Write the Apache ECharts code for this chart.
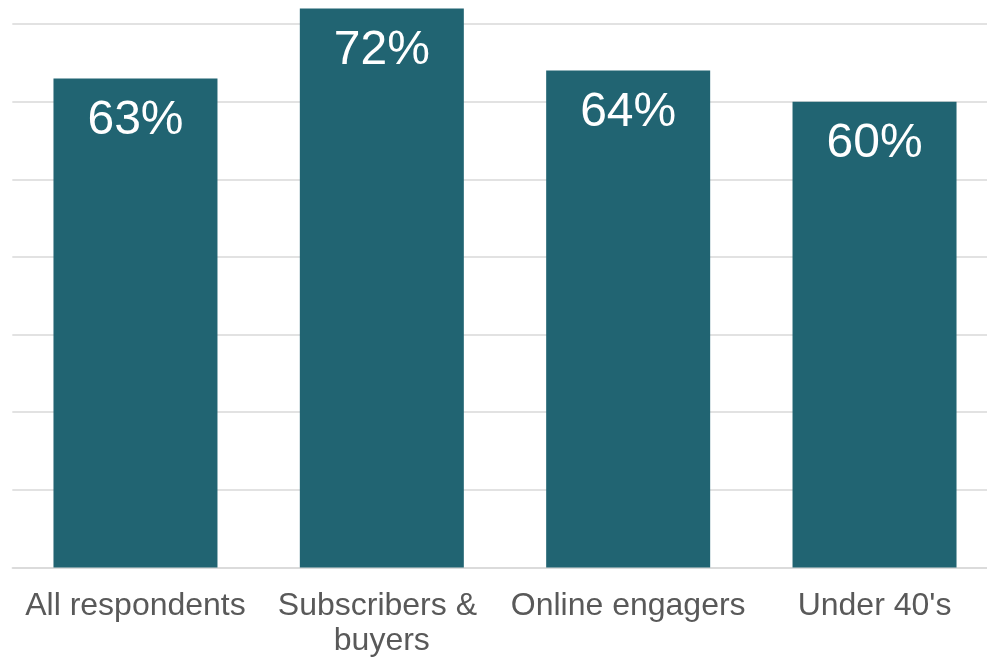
<!DOCTYPE html>
<html>
<head>
<meta charset="utf-8">
<script src="https://cdn.jsdelivr.net/npm/echarts@6/dist/echarts.min.js"></script>
<style>html,body{margin:0;padding:0;background:#fff;overflow:hidden}#c{width:987px;height:658px}</style>
</head>
<body>
<div id="c"></div>
<script>
var categories = ["All respondents", "Subscribers & buyers", "Online engagers", "Under 40's"];
var values = [63, 72, 64, 60];

var chart = echarts.init(document.getElementById('c'), null, {renderer: 'canvas'});
var fontFam = '"Liberation Sans", Arial, sans-serif';
chart.setOption({
  animation: false,
  backgroundColor: '#ffffff',
  grid: {left: 12.3, right: -10.7, top: 8.5, height: 559, containLabel: false, outerBoundsMode: 'none'},
  xAxis: {
    type: 'category',
    data: categories,
    axisLine: {show: true, lineStyle: {color: '#d9d9d9', width: 1.5}},
    axisTick: {show: false},
    axisLabel: {
      interval: 0,
      color: '#595959',
      fontFamily: fontFam,
      fontSize: 32,
      lineHeight: 35,
      margin: 21,
      width: 240,
      overflow: 'break'
    }
  },
  yAxis: {
    type: 'value',
    min: 0, max: 72, interval: 10,
    axisLabel: {show: false},
    axisLine: {show: false},
    axisTick: {show: false},
    splitLine: {show: true, showMaxLine: false, lineStyle: {color: '#d9d9d9', width: 1.5}}
  },
  series: [{
    type: 'bar',
    data: values,
    barWidth: 164,
    itemStyle: {color: '#216472'},
    label: {
      show: true,
      position: 'insideTop',
      distance: 18,
      color: '#ffffff',
      fontFamily: fontFam,
      fontSize: 48,
      formatter: function(p){ return p.value + '%'; }
    }
  }]
});
</script>
</body>
</html>
